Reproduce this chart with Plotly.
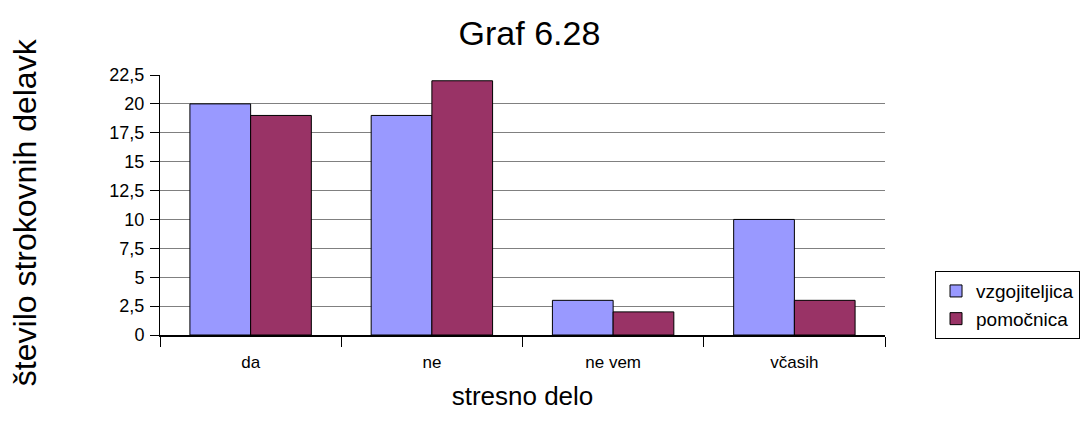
import plotly.graph_objects as go

categories = ["da", "ne", "ne vem", "včasih"]
vzgojiteljica = [20, 19, 3, 10]
pomocnica = [19, 22, 2, 3]
y_ticks = [0, 2.5, 5, 7.5, 10, 12.5, 15, 17.5, 20, 22.5]

FONT = "Liberation Sans, Arial, sans-serif"

fig = go.Figure()
fig.add_trace(go.Bar(
    x=categories, y=vzgojiteljica, name="vzgojiteljica",
    marker=dict(color="#9999FF", line=dict(color="black", width=1)),
))
fig.add_trace(go.Bar(
    x=categories, y=pomocnica, name="pomočnica",
    marker=dict(color="#993366", line=dict(color="black", width=1)),
))

fig.update_layout(
    width=1085, height=430,
    margin=dict(l=160, r=200, t=75, b=95, autoexpand=False),
    paper_bgcolor="white", plot_bgcolor="white",
    separators=", ",
    barmode="group", bargap=0.33, bargroupgap=0,
    font=dict(family=FONT, color="black"),
    title=dict(text="Graf 6.28", xref="container", x=0.488, xanchor="center",
               yref="container", y=0.923, yanchor="middle",
               font=dict(size=34, family=FONT)),
    legend=dict(
        x=1.069, y=0.115, xanchor="left", yanchor="middle",
        bordercolor="black", borderwidth=1, bgcolor="white",
        font=dict(size=19, family=FONT),
        tracegroupgap=0, itemwidth=30,
    ),
    showlegend=True,
)

# vertical axis caption, rotated and placed left of the tick labels
fig.add_annotation(
    text="število strokovnih delavk", textangle=-90,
    xref="paper", yref="paper", x=-0.186, y=0.473,
    xanchor="center", yanchor="middle", showarrow=False,
    font=dict(size=32, family=FONT),
)

fig.update_xaxes(
    showline=True, linecolor="black", linewidth=1.5,
    ticks="outside", tickson="boundaries", ticklen=10, tickcolor="black",
    ticklabelstandoff=11,
    tickfont=dict(size=17, family=FONT),
    title=dict(text="stresno delo", font=dict(size=26, family=FONT), standoff=16),
    showgrid=False,
)
fig.update_yaxes(
    range=[0, 22.5], tickvals=y_ticks,
    showline=True, linecolor="black", linewidth=1,
    ticks="outside", ticklen=9, tickcolor="black",
    ticklabelstandoff=2,
    tickfont=dict(size=18, family=FONT),
    showgrid=True, gridcolor="#808080", gridwidth=1,
    zeroline=False,
)

fig.write_html("out.html")
